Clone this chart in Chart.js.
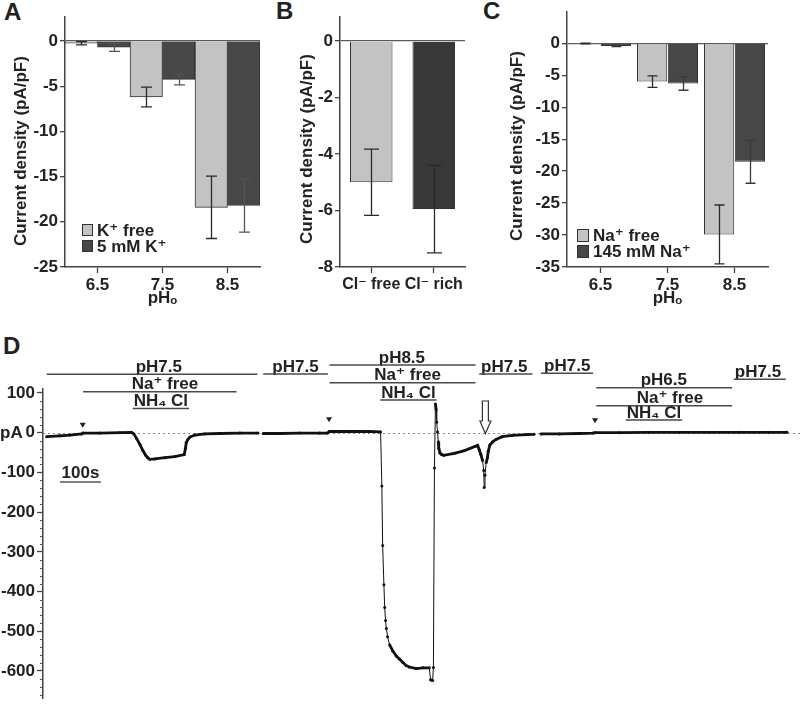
<!DOCTYPE html>
<html><head><meta charset="utf-8">
<script src="https://cdn.jsdelivr.net/npm/chart.js@4.4.1/dist/chart.umd.min.js"></script>
<style>
html,body{margin:0;padding:0;background:#fff;width:800px;height:711px;overflow:hidden;}
canvas{position:absolute;}
.letter{position:absolute;font:bold 24px 'Liberation Sans',Arial,sans-serif;color:#222;line-height:24px;}
</style></head><body>
<div class="letter" style="left:4px;top:0px">A</div>
<div class="letter" style="left:276px;top:-1px">B</div>
<div class="letter" style="left:483px;top:-1px">C</div>
<div class="letter" style="left:3px;top:334px">D</div>
<canvas id="cA" width="265" height="310" style="left:0;top:0"></canvas>
<canvas id="cB" width="185" height="310" style="left:285px;top:0"></canvas>
<canvas id="cC" width="310" height="310" style="left:490px;top:0"></canvas>
<canvas id="cD" width="800" height="381" style="left:0;top:330px"></canvas>
<script>
// ---------------- DATA ----------------
// Panel A
const phCategories = ['6.5', '7.5', '8.5'];
const kFreeMean = [-0.25, -6.2, -18.4];
const kFreeSem  = [0.18, 1.1, 3.45];
const k5Mean    = [-0.7, -4.25, -18.2];
const k5Sem     = [0.45, 0.6, 2.95];
const ticksA    = [0, -5, -10, -15, -20, -25];
// Panel B
const clCategories = ['Cl\u207B free', 'Cl\u207B rich'];
const clMean = [-5.0, -5.95];
const clSem  = [1.17, 1.55];
const ticksB = [0, -2, -4, -6, -8];
// Panel C
const naFreeMean = [-0.05, -6.0, -29.9];
const naFreeSem  = [0.05, 0.9, 4.6];
const na145Mean  = [-0.42, -6.3, -18.55];
const na145Sem   = [0.1, 1.05, 3.35];
const ticksC = [0, -5, -10, -15, -20, -25, -30, -35];
// Panel D : current trace (time in s, current in pA), three recording segments
const seg1T = [9, 41, 66, 94, 98, 139, 188, 216, 222, 229, 237, 244, 251, 256, 261, 273, 298, 322, 345, 348, 350, 354, 359, 371, 395, 432, 481, 525];
const seg1I = [-10, -8, -6, -3, -1, -1, 0, 1, -3, -15, -30, -45, -57, -63, -67, -66, -63, -60, -55, -40, -25, -17, -11, -6, -3, -2, -1, -1];
const seg2T = [538, 578, 627, 676, 695, 700, 749, 798, 825, 828, 830, 833, 835, 837, 839, 842, 847, 855, 863, 871, 879, 887, 895, 912, 928, 944, 947, 952, 954, 956.5, 959, 960.6, 962, 964, 966, 967, 970, 974, 979, 1005, 1030, 1062, 1066, 1070, 1074, 1077, 1078, 1080, 1083, 1086, 1088, 1092, 1099, 1107, 1122, 1147, 1181, 1200];
const seg2I = [-2, -2, -1, -1, -1, 3, 3, 3, 2, -134, -284, -383, -440, -473, -493, -514, -534, -550, -562, -570, -578, -586, -590, -594, -592, -592, -622, -624, -591, -89, 72, 58, 26, 2, -23, -39, -51, -55, -57, -52, -45, -32, -43, -55, -70, -95, -138, -107, -75, -63, -47, -31, -23, -17, -10, -6.5, -5, -4];
const seg3T = [1217, 1262, 1310, 1344, 1349, 1408, 1481, 1554, 1628, 1701, 1774, 1818];
const seg3I = [-3, -3, -2, -1, 0, 0, 1, 1, 1, 1, 1, 1];
const ticksD = [100, 0, -100, -200, -300, -400, -500, -600];
// Panel D : solution protocol labels (time span in s)
const protocolText  = ['pH7.5', 'Na\u207A free', 'NH\u2084 Cl', 'pH7.5', 'pH8.5', 'Na\u207A free', 'NH\u2084 Cl', 'pH7.5', 'pH7.5', 'pH6.5', 'Na\u207A free', 'NH\u2084 Cl', 'pH7.5'];
const protocolStart = [9, 98, null, 538, 700, 700, null, 1066, 1217, 1352, 1352, null, 1688];
const protocolEnd   = [524, 473, null, 696, 1057, 1057, null, 1196, 1344, 1684, 1684, null, 1815];
const protocolLabelT = [283, 298, 288, 617, 877, 891, 893, 1127, 1281, 1517, 1532, 1493, 1747];
const applicationMarksT = [97, 699, 1349];
const washArrowT = 1081;
const scaleBarStartT = 41.5, scaleBarLenS = 100;

// ---------------- STYLE / LAYOUT ----------------
const FONT = "'Liberation Sans', Arial, Helvetica, 'DejaVu Sans', sans-serif";
Chart.defaults.font.family = FONT;
Chart.defaults.font.size = 17;
Chart.defaults.font.weight = 'bold';
Chart.defaults.color = '#222';
Chart.defaults.animation = false;
const LIGHT = '#c3c3c3', DARK = '#474747', DARKB = '#383838';
const D_TOP = 330;
// page y of each protocol row (line position)
const protocolY = [374.3, 391.7, 408.5, 374, 365, 382.7, 400, 374, 373.3, 387.7, 405.7, 420, 379.3];

const errorBarPlugin = {
  id: 'errorBars',
  afterDatasetsDraw(chart, args, opts) {
    const {ctx} = chart; const ys = chart.scales.y;
    chart.data.datasets.forEach((ds, di) => {
      if (!ds.errors) return;
      const meta = chart.getDatasetMeta(di);
      meta.data.forEach((bar, i) => {
        const v = ds.data[i], e = ds.errors[i];
        const x = Math.round(bar.x) + 0.5;
        const y1 = ys.getPixelForValue(v + e), y2 = ys.getPixelForValue(v - e);
        const w = opts.cap / 2;
        ctx.save();
        ctx.strokeStyle = Array.isArray(ds.errorColor) ? ds.errorColor[i] : ds.errorColor;
        ctx.lineWidth = 1.3;
        ctx.beginPath();
        ctx.moveTo(x, y1); ctx.lineTo(x, y2);
        ctx.moveTo(x - w, y1); ctx.lineTo(x + w, y1);
        ctx.moveTo(x - w, y2); ctx.lineTo(x + w, y2);
        ctx.stroke();
        ctx.restore();
      });
    });
  }
};

const boxLegendPlugin = {
  id: 'boxLegend',
  afterDraw(chart, args, opts) {
    if (!opts || !opts.display) return;
    const {ctx, chartArea} = chart;
    chart.data.datasets.forEach((ds, i) => {
      const x = chartArea.left + opts.dx, y = chartArea.bottom - opts.dy + i * opts.rowH;
      ctx.save();
      ctx.fillStyle = ds.backgroundColor; ctx.fillRect(x, y, opts.box - 1, opts.box);
      ctx.strokeStyle = '#333'; ctx.lineWidth = 1; ctx.strokeRect(x + 0.5, y + 0.5, opts.box - 2, opts.box - 1);
      ctx.fillStyle = '#222'; ctx.font = 'bold 17px ' + FONT;
      ctx.textBaseline = 'middle'; ctx.textAlign = 'left';
      ctx.fillText(ds.label, x + opts.box + 3, y + opts.box / 2 + 1);
      ctx.restore();
    });
  }
};

// rotated y-axis title placed at a given centre
const yTitlePlugin = {
  id: 'yTitle',
  afterDraw(chart, args, opts) {
    if (!opts || !opts.text) return;
    const {ctx} = chart;
    ctx.save();
    ctx.translate(opts.x, opts.y);
    ctx.rotate(-Math.PI / 2);
    ctx.fillStyle = '#222'; ctx.font = 'bold 17px ' + FONT;
    ctx.textAlign = 'center'; ctx.textBaseline = 'middle';
    ctx.fillText(opts.text, 0, 0);
    ctx.restore();
  }
};

function barChart(id, cfg) {
  return new Chart(document.getElementById(id), {
    type: 'bar',
    data: {labels: cfg.labels, datasets: cfg.datasets},
    options: {
      responsive: false, animation: false,
      layout: {padding: cfg.padding},
      plugins: {legend: {display: false}, tooltip: {enabled: false},
        boxLegend: cfg.legend || {display: false}, errorBars: {cap: cfg.cap},
        yTitle: {text: 'Current density (pA/pF)', x: cfg.titleX, y: cfg.titleY}},
      datasets: {bar: {categoryPercentage: cfg.catPct, barPercentage: cfg.barPct, borderWidth: 1, borderColor: '#333'}},
      scales: {
        x: {
          grid: {display: true, drawOnChartArea: false, offset: false, tickLength: 6, tickColor: '#444', tickWidth: 1.3},
          border: {display: true, color: '#444', width: 1.5},
          ticks: {autoSkip: false, maxRotation: 0, minRotation: 0, padding: 2, color: '#222', font: {size: cfg.xFont || 17}},
          title: {display: !!cfg.xTitle, text: cfg.xTitle || '', padding: {top: 0, bottom: 1}, color: '#222'},
          afterFit: s => { s.height = cfg.xH; }
        },
        y: {
          min: cfg.min, max: cfg.max,
          afterBuildTicks: s => { s.ticks = cfg.ticks.map(v => ({value: v})); },
          grid: {drawOnChartArea: true, color: c => (c.tick && c.tick.value === 0) ? '#5a5a5a' : 'rgba(0,0,0,0)',
                 lineWidth: 1.3, tickLength: 5, tickColor: '#444', tickWidth: 1.3},
          border: {color: '#444', width: 1.5},
          ticks: {padding: 2, color: '#222'},
          title: {display: false},
          afterFit: s => { s.width = cfg.yW; }
        }
      }
    },
    plugins: [errorBarPlugin, boxLegendPlugin, yTitlePlugin]
  });
}

// Panel A
barChart('cA', {
  labels: phCategories,
  datasets: [
    {label: 'K\u207A free', data: kFreeMean, errors: kFreeSem, backgroundColor: LIGHT, errorColor: '#2a2a2a'},
    {label: '5 mM K\u207A', data: k5Mean, errors: k5Sem, backgroundColor: DARK, errorColor: '#555'}
  ],
  padding: {top: 17, right: 5, left: 0, bottom: 0},
  min: -25, max: 2.65, ticks: ticksA, yW: 65, xH: 43, titleX: 21, titleY: 151,
  catPct: 1, barPct: 1, cap: 11, xTitle: 'pH\u2092',
  legend: {display: true, dx: 17, dy: 43, rowH: 16, box: 12}
});
// Panel B
barChart('cB', {
  labels: clCategories,
  datasets: [
    {label: 'Cl', data: clMean, errors: clSem, backgroundColor: [LIGHT, DARKB], errorColor: ['#2a2a2a', '#2a2a2a']}
  ],
  padding: {top: 17, right: 5, left: 0, bottom: 0},
  min: -8, max: 0.85, ticks: ticksB, yW: 55, xH: 43, titleX: 22, titleY: 149,
  catPct: 1, barPct: 0.68, cap: 15, xFont: 16
});
// Panel C
barChart('cC', {
  labels: phCategories,
  datasets: [
    {label: 'Na\u207A free', data: naFreeMean, errors: naFreeSem, backgroundColor: LIGHT, errorColor: '#2a2a2a'},
    {label: '145 mM Na\u207A', data: na145Mean, errors: na145Sem, backgroundColor: DARK, errorColor: '#3a3a3a'}
  ],
  padding: {top: 12, right: 32, left: 0, bottom: 0},
  min: -35, max: 4.86, ticks: ticksC, yW: 77, xH: 43, titleX: 27.5, titleY: 146,
  catPct: 0.92, barPct: 0.98, cap: 10, xTitle: 'pH\u2092',
  legend: {display: true, dx: 10, dy: 38, rowH: 16, box: 13}
});

// Panel D
const tracePlugin = {
  id: 'traceDecor',
  beforeDatasetsDraw(chart) {
    const {ctx} = chart; const ys = chart.scales.y;
    const y0 = Math.round(ys.getPixelForValue(0)) + 0.5;
    ctx.save();
    ctx.strokeStyle = '#888'; ctx.lineWidth = 1; ctx.setLineDash([2, 3]);
    ctx.beginPath(); ctx.moveTo(chart.chartArea.left, y0); ctx.lineTo(chart.width, y0); ctx.stroke();
    ctx.restore();
  },
  afterDraw(chart) {
    const {ctx} = chart; const xs = chart.scales.x, ys = chart.scales.y;
    const left = chart.chartArea.left;
    ctx.save();
    // minor ticks
    ctx.strokeStyle = '#555'; ctx.lineWidth = 1;
    for (let v = -660; v <= 100; v += 20) {
      if (v % 100 === 0) continue;
      const y = Math.round(ys.getPixelForValue(v)) + 0.5;
      ctx.beginPath(); ctx.moveTo(left - 3, y); ctx.lineTo(left, y); ctx.stroke();
    }
    // unit label
    ctx.fillStyle = '#222'; ctx.font = 'bold 17px ' + FONT;
    ctx.textAlign = 'left'; ctx.textBaseline = 'middle';
    ctx.fillText('pA', 0, ys.getPixelForValue(0) + 1);
    // protocol labels
    ctx.textAlign = 'center'; ctx.textBaseline = 'alphabetic';
    protocolText.forEach((txt, i) => {
      const y = protocolY[i] - D_TOP;
      const xc = xs.getPixelForValue(protocolLabelT[i]);
      ctx.fillStyle = '#222';
      ctx.fillText(txt, xc, y - 2.5);
      ctx.strokeStyle = '#4a4a4a'; ctx.lineWidth = 1.4;
      let x0, x1;
      if (protocolStart[i] != null) { x0 = xs.getPixelForValue(protocolStart[i]); x1 = xs.getPixelForValue(protocolEnd[i]); }
      else { const w = ctx.measureText(txt).width; x0 = xc - w / 2 - 1; x1 = xc + w / 2 + 1; }
      ctx.beginPath(); ctx.moveTo(x0, y); ctx.lineTo(x1, y); ctx.stroke();
    });
    // application marks
    ctx.fillStyle = '#222';
    const markY = [422.7, 417.3, 418.3];
    applicationMarksT.forEach((t, i) => {
      const x = xs.getPixelForValue(t), y = markY[i] - D_TOP;
      ctx.beginPath(); ctx.moveTo(x - 3, y); ctx.lineTo(x + 3, y); ctx.lineTo(x, y + 5); ctx.closePath(); ctx.fill();
    });
    // wash arrow (open)
    const ax = xs.getPixelForValue(washArrowT);
    const aTop = 401 - D_TOP, aNeck = 421 - D_TOP, aTip = 433.5 - D_TOP;
    ctx.beginPath();
    ctx.moveTo(ax - 3, aTop); ctx.lineTo(ax + 3, aTop); ctx.lineTo(ax + 3, aNeck); ctx.lineTo(ax + 5.5, aNeck);
    ctx.lineTo(ax, aTip); ctx.lineTo(ax - 5.5, aNeck); ctx.lineTo(ax - 3, aNeck); ctx.closePath();
    ctx.fillStyle = '#fff'; ctx.fill(); ctx.strokeStyle = '#333'; ctx.lineWidth = 1.2; ctx.stroke();
    // time scale bar
    const sx0 = xs.getPixelForValue(scaleBarStartT), sx1 = xs.getPixelForValue(scaleBarStartT + scaleBarLenS);
    ctx.fillStyle = '#222'; ctx.textAlign = 'center';
    ctx.fillText('100s', (sx0 + sx1) / 2, 478.3 - D_TOP);
    ctx.strokeStyle = '#555'; ctx.lineWidth = 1.5;
    ctx.beginPath(); ctx.moveTo(sx0, 482 - D_TOP); ctx.lineTo(sx1, 482 - D_TOP); ctx.stroke();
    ctx.restore();
  }
};

const segs = [[seg1T, seg1I], [seg2T, seg2I], [seg3T, seg3I]];
new Chart(document.getElementById('cD'), {
  type: 'line',
  data: {
    datasets: segs.map(([T, I]) => ({
      data: T.map((t, i) => ({x: t, y: I[i]})),
      borderColor: '#111', backgroundColor: '#111',
      pointRadius: 1.5, pointBorderWidth: 0, pointBackgroundColor: '#111',
      tension: 0, borderWidth: 1,
      segment: {borderWidth: c => Math.abs(c.p1.y - c.p0.y) > 7 ? 1 : 2.8}
    }))
  },
  options: {
    responsive: false, animation: false,
    layout: {padding: {top: 59, right: 3, left: 0, bottom: 0}},
    plugins: {legend: {display: false}, tooltip: {enabled: false}},
    scales: {
      x: {type: 'linear', min: 0, max: 1840, display: false},
      y: {
        min: -670, max: 110,
        afterBuildTicks: s => { s.ticks = ticksD.map(v => ({value: v})); },
        grid: {drawOnChartArea: false, tickLength: 6, tickColor: '#444', tickWidth: 1.3},
        border: {color: '#444', width: 1.5},
        ticks: {padding: 2, color: '#222'},
        afterFit: s => { s.width = 43; }
      }
    }
  },
  plugins: [tracePlugin]
});
</script>
</body></html>
